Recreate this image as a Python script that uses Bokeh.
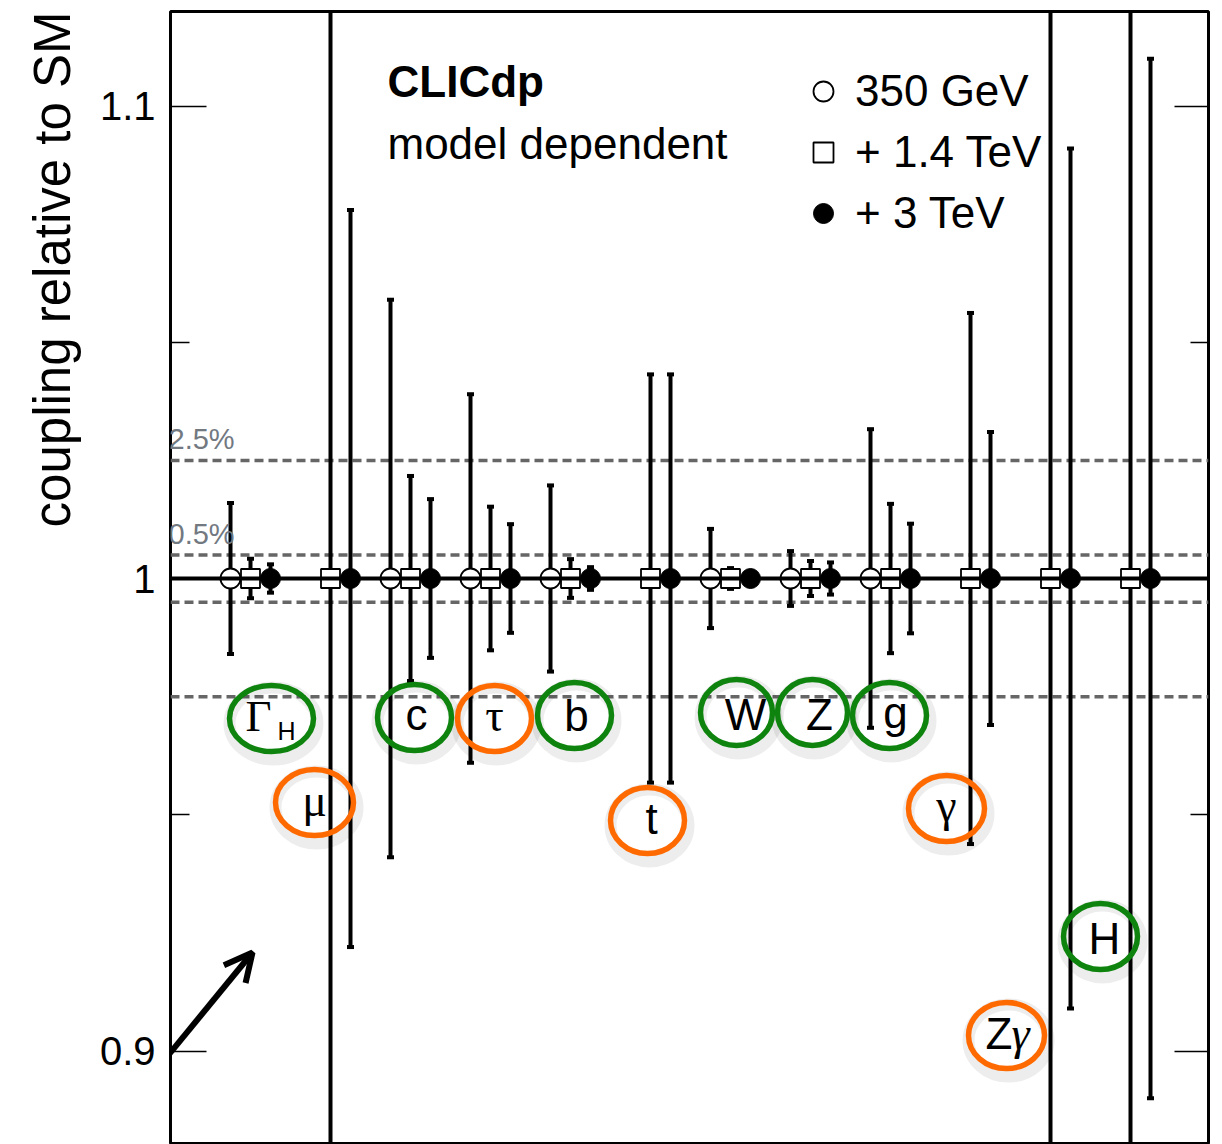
from bokeh.plotting import figure
from bokeh.models import (Range1d, LinearAxis, FixedTicker, Span, Label, Arrow, Title,
                          OpenHead, Legend, LegendItem, ColumnDataSource)
from bokeh.embed import file_html
from bokeh.resources import INLINE

# ---------------- data ----------------
couplings = ["Γ_H", "μ", "c", "τ", "b", "t", "W", "Z", "g", "γ", "Zγ", "H"]
sm_value = [1.0, 1.0, 1.0, 1.0, 1.0, 1.0, 1.0, 1.0, 1.0, 1.0, 1.0, 1.0]
energy_labels = ["350 GeV", "+ 1.4 TeV", "+ 3 TeV"]
# relative uncertainties (None = not measured at that stage)
err_350 = [0.016, None, 0.059, 0.039, 0.0197, None, 0.0105, 0.0058, 0.0316, None, None, None]
err_1400 = [0.0042, 0.30, 0.0217, 0.0152, 0.0041, 0.0432, 0.0022, 0.0037, 0.0158, 0.0562, 0.30, 0.30]
err_3000 = [0.0030, 0.078, 0.0168, 0.0115, 0.0024, 0.0432, 0.0010, 0.0034, 0.0116, 0.0310, 0.091, 0.110]
band_percent = [2.5, 0.5]
y_ticks = [0.9, 1.0, 1.1]
y_tick_labels = ["0.9", "1", "1.1"]
y_minor_ticks = [0.95, 1.05]
y_title = "coupling relative to SM"
ring_colors = ["green", "orange", "green", "orange", "green", "orange",
               "green", "green", "green", "orange", "orange", "green"]

# ---------------- layout helpers ----------------
FRAME_LEFT_PX, PX_PER_X = 170, 80.0
Y1_PX, PX_PER_Y = 578, 4725.0
LABEL_SHIFT = 16  # Label anchor correction (px)


def dx(px):
    return -1 + (px - FRAME_LEFT_PX) / PX_PER_X


def dy(py):
    return 1 + (Y1_PX - py) / PX_PER_Y


FONT = "Liberation Sans"
SERIF = "Liberation Serif"
GREEN = "#0e840e"
ORANGE = "#ff6a00"

p = figure(width=1222, height=1144,
           x_range=Range1d(-1, dx(1208)), y_range=Range1d(dy(1144), dy(11)),
           output_backend="svg", toolbar_location=None,
           x_axis_location=None, y_axis_location="left",
           min_border_left=170, min_border_right=14, min_border_top=11, min_border_bottom=0)
p.grid.visible = False
p.outline_line_color = "black"
p.outline_line_width = 3
p.background_fill_color = "white"

# y axis (left)
ticker = FixedTicker(ticks=y_ticks, minor_ticks=y_minor_ticks)
ya = p.yaxis[0]
ya.ticker = ticker
ya.major_label_overrides = {t: lab for t, lab in zip(y_ticks, y_tick_labels)}
ya.axis_line_color = None
ya.major_tick_in = 36
ya.major_tick_out = 0
ya.minor_tick_in = 19
ya.minor_tick_out = 0
ya.major_tick_line_width = 1.5
ya.minor_tick_line_width = 1.5
ya.major_label_standoff = 15
ya.major_label_text_font = FONT
ya.major_label_text_font_size = "40px"
ya.major_label_text_color = "black"

# y axis title, aligned to the top of the axis as in the original
p.add_layout(Title(text=y_title, align="right", text_font=FONT,
                   text_font_size="51px", text_font_style="normal", text_color="black",
                   standoff=32), "left")

# right axis with inward ticks only (labels not drawn)
ra = LinearAxis(ticker=FixedTicker(ticks=y_ticks, minor_ticks=y_minor_ticks),
                major_label_text_font_size="1px", major_label_text_color=None,
                major_label_standoff=0,
                major_tick_in=34, major_tick_out=0, minor_tick_in=18, minor_tick_out=0,
                major_tick_line_width=1.5, minor_tick_line_width=1.5,
                axis_line_color=None)
p.add_layout(ra, "right")


def lab(px, py, text, font=FONT, size="44px", style="normal", align="center", color="black"):
    p.add_layout(Label(x=dx(px), y=dy(py - LABEL_SHIFT), text=text, text_font=font,
                       text_font_size=size, text_font_style=style, text_align=align,
                       text_color=color, text_baseline="alphabetic"))


# reference bands
for pct in band_percent:
    for sgn in (1, -1):
        p.add_layout(Span(location=1 + sgn * pct / 100.0, dimension="width",
                          line_color="#666666", line_width=3.5, line_dash="9 5",
                          level="underlay"))
    base_px = Y1_PX - (pct / 100.0) * PX_PER_Y - 5
    lab(168, base_px, f"{pct}%", size="29px", align="left", color="#727981")

# ---------------- series ----------------
offsets = [-0.25, 0.0, 0.25]
series = [err_350, err_1400, err_3000]
sources = []
for k, errs in enumerate(series):
    xs, ys, lo, hi = [], [], [], []
    for i, e in enumerate(errs):
        if e is None:
            continue
        xs.append(i + offsets[k])
        ys.append(sm_value[i])
        lo.append(sm_value[i] - e)
        hi.append(sm_value[i] + e)
    src = ColumnDataSource(dict(x=xs, y=ys, lo=lo, hi=hi))
    sources.append(src)
    p.segment(x0="x", y0="lo", x1="x", y1="hi", source=src,
              line_color="black", line_width=4)
    for end in ("lo", "hi"):
        p.rect(x="x", y=end, width=7, height=4, width_units="screen", height_units="screen",
               source=src, fill_color="black", line_color=None)

r_c = p.scatter(x="x", y="y", source=sources[0], marker="circle", size=20,
                fill_color="white", line_color="black", line_width=1.8)
r_s = p.scatter(x="x", y="y", source=sources[1], marker="square", size=19,
                fill_color="white", line_color="black", line_width=1.8)
r_d = p.scatter(x="x", y="y", source=sources[2], marker="circle", size=20,
                fill_color="black", line_color="black", line_width=1)

# SM line
p.add_layout(Span(location=1.0, dimension="width", line_color="black", line_width=4))

# legend
legend = Legend(items=[LegendItem(label=energy_labels[0], renderers=[r_c]),
                       LegendItem(label=energy_labels[1], renderers=[r_s]),
                       LegendItem(label=energy_labels[2], renderers=[r_d])],
                location=(628, 906), orientation="vertical",
                glyph_width=50, glyph_height=50, label_height=50, spacing=11,
                padding=0, margin=0, label_standoff=7,
                label_text_font=FONT, label_text_font_size="44px", label_text_color="black",
                border_line_color=None, background_fill_alpha=0)
p.add_layout(legend)

# texts
lab(387, 97, "CLICdp", style="bold", align="left")
lab(387, 159, "model dependent", align="left")

# ---------------- annotation rings ----------------
ring_px = {  # page pixel centre and ring width of each hand-drawn marker ring
    "Γ_H": (271, 718, 84), "μ": (314, 802, 78), "c": (414, 717, 74), "τ": (494, 718, 74),
    "b": (574, 715, 74), "t": (647, 820, 74), "W": (736, 712, 72), "Z": (812, 712, 70),
    "g": (889, 715, 74), "γ": (946, 808, 76), "Zγ": (1006, 1035, 76), "H": (1100, 936, 74),
}
rx, ry, rw, rcol, sx, sy = [], [], [], [], [], []
for name, col in zip(couplings, ring_colors):
    cx, cy, w = ring_px[name]
    rx.append(dx(cx)); ry.append(dy(cy)); rw.append(w)
    sx.append(dx(cx + 2)); sy.append(dy(cy + 5))
    rcol.append(GREEN if col == "green" else ORANGE)
p.ellipse(x=sx, y=sy, width=[w + 4 for w in rw], height=72, width_units="screen",
          height_units="screen", fill_color=None, line_color="black", line_alpha=0.07,
          line_width=12)
p.ellipse(x=rx, y=ry, width=rw, height=66, width_units="screen", height_units="screen",
          fill_color=None, line_color=rcol, line_width=5.5)

lab(258, 731, "Γ", font=SERIF, size="45px")
lab(286, 746, "H", size="25px")
lab(314, 816, "μ", font=SERIF, size="46px")
lab(416, 730, "c")
lab(494, 731, "τ", font=SERIF, size="46px")
lab(576, 731, "b")
lab(651, 834, "t")
lab(745, 730, "W")
lab(819, 730, "Z")
lab(895, 728, "g")
lab(946, 821, "γ", font=SERIF, size="46px")
lab(1012, 1049, "Z", align="right")
lab(1011, 1049, "γ", font=SERIF, size="46px", style="italic", align="left")
lab(1104, 954, "H")

# arrow
p.add_layout(Arrow(end=OpenHead(size=28, line_width=6, line_color="black"),
                   x_start=dx(88), y_start=dy(1152), x_end=dx(252), y_end=dy(952),
                   line_width=6, line_color="black"))

open("out.html", "w").write(file_html(p, INLINE))
